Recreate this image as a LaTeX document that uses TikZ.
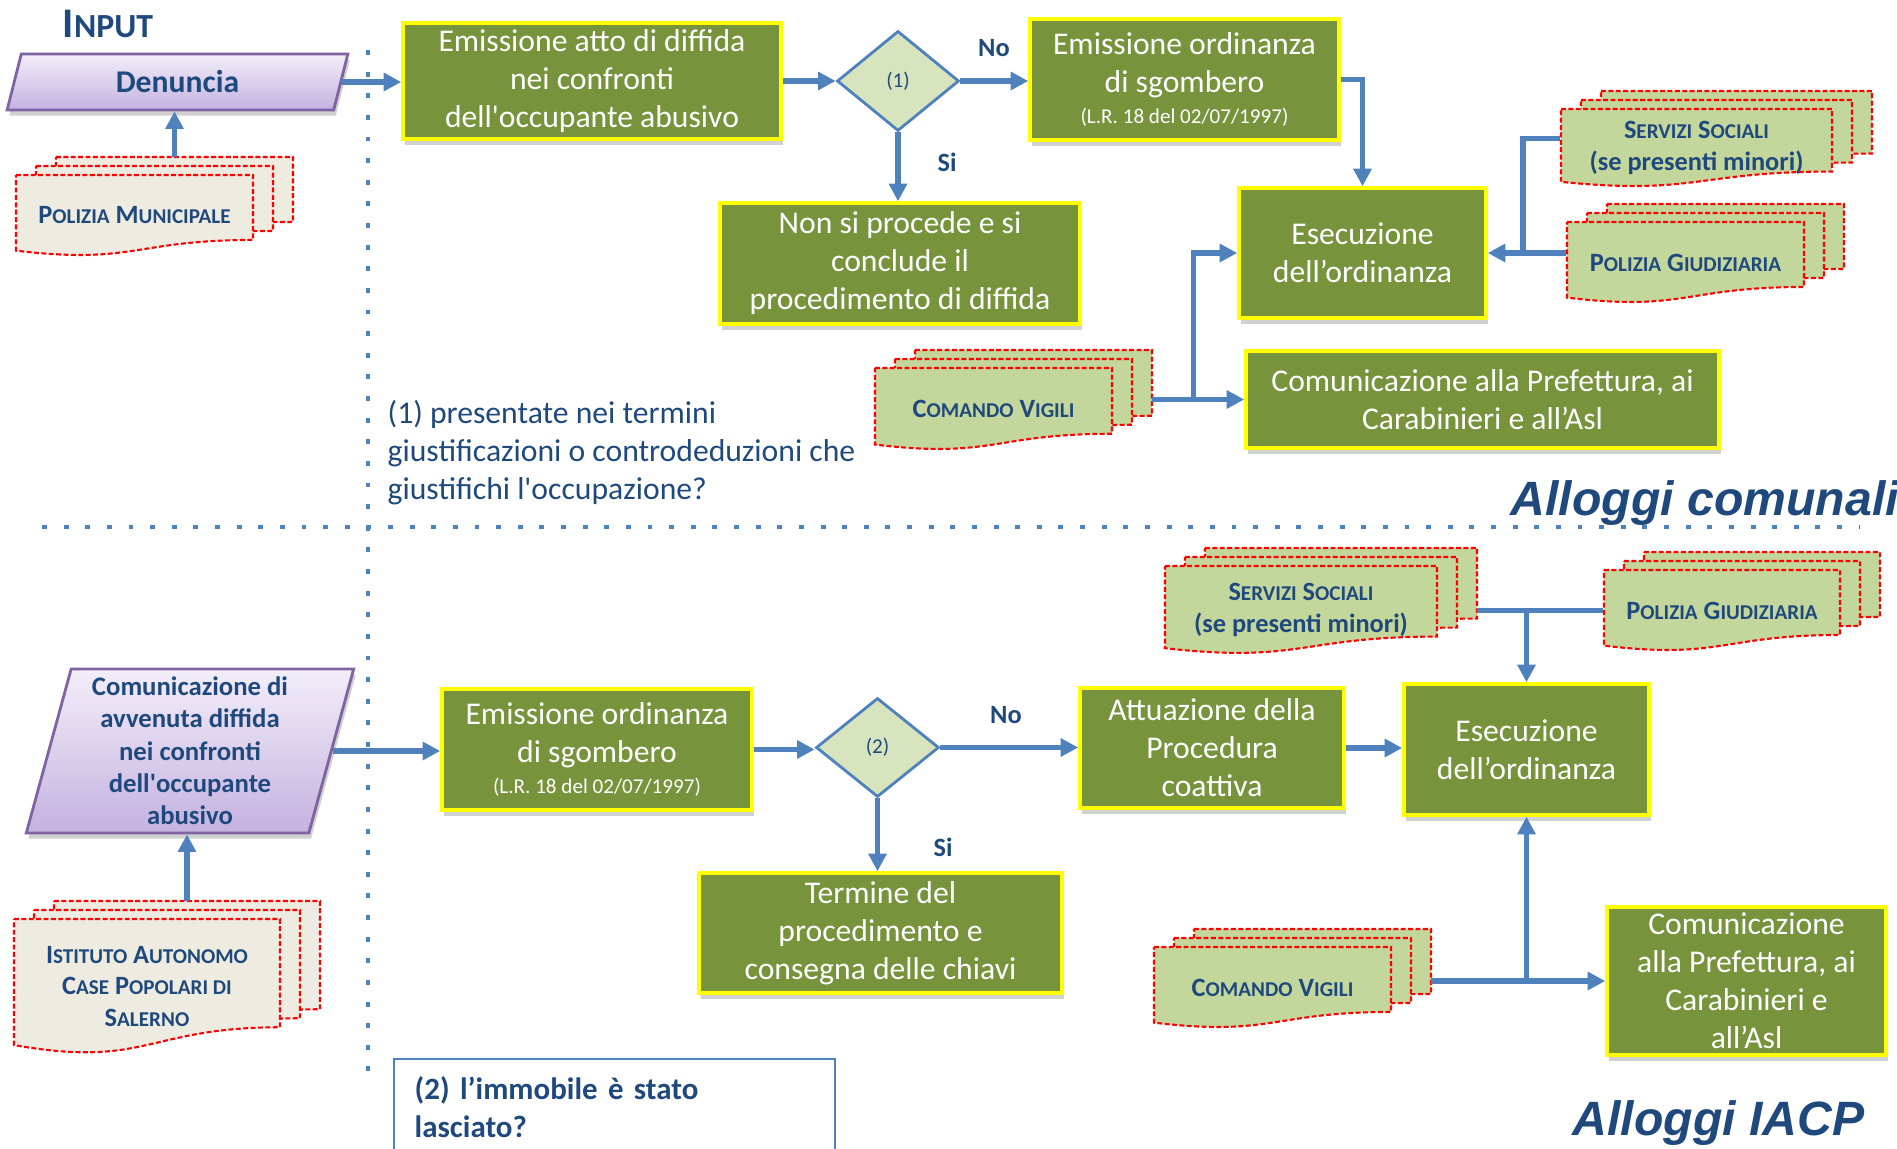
\documentclass[tikz,border=0pt]{standalone}
\usepackage{fontspec}
\setmainfont{Carlito}
\newfontfamily\arialfont{Liberation Sans}
\usetikzlibrary{shapes.geometric, arrows.meta, positioning, calc, shadows}

\definecolor{boxgreen}{HTML}{77933C}
\definecolor{boxedge}{HTML}{FFFF00}
\definecolor{lineblue}{HTML}{4F81BD}
\definecolor{txtblue}{HTML}{1F497D}
\definecolor{diafill}{HTML}{D7E4BD}
\definecolor{docbeige}{HTML}{EEECE1}
\definecolor{docgreen}{HTML}{C3D69B}
\definecolor{parEdge}{HTML}{8064A2}
\definecolor{parTop}{HTML}{F3EEF9}
\definecolor{parBot}{HTML}{C4B2E0}

\newcommand{\smc}[1]{\scalebox{0.8}{#1}}

\tikzset{
  block/.style = {draw=boxedge, line width=1pt, fill=boxgreen, text=white, align=center, inner sep=1pt,
    font=\fontsize{9}{10.8}\selectfont, drop shadow={shadow xshift=0.6pt, shadow yshift=-1.6pt, opacity=0.3, fill=black!60}},
  arrow/.style = {-{Triangle[length=5pt,width=5pt]}, draw=lineblue, line width=1.5pt},
  link/.style = {draw=lineblue, line width=1.5pt},
  boxsize/.style 2 args = {minimum width=#1*0.01cm, minimum height=#2*0.01cm},
  docline/.style = {draw=red, line width=0.6pt, dash pattern=on 1.4pt off 0.7pt},
  doctext/.style = {align=center, text=txtblue, inner sep=0pt, font=\bfseries\fontsize{7.5}{9}\selectfont}
}

% name, x, y (top left of front sheet), width, height, fill, text
\newcommand{\docstack}[7]{%
  \foreach \k in {2,1,0}
    \draw[docline, fill=#6, shift={({#2+\k*\dx},{#3-\k*\dy})}]
      (0,0) -- (#4,0) -- (#4,{0.802*#5})
      .. controls ({0.5*#4},{0.802*#5}) and ({0.5*#4},{1.1075*#5}) .. (0,{0.934*#5}) -- cycle;
  \node[doctext, boxsize={#4}{#5}] (#1) at ({#2+0.5*#4},{#3+0.5*#5}) {#7};
  \coordinate (#1-top) at ({#2+0.5*#4+2*\dx},{#3-2*\dy});
  \coordinate (#1-e) at ({#2+#4+2*\dx},{#3+0.5*#5});
}

\begin{document}
\begin{tikzpicture}[x=0.01cm, y=-0.01cm]
  \def\dx{20}
  \def\dy{9}
  \tikzset{
    title/.style={font=\bfseries\fontsize{12}{14}\selectfont, text=txtblue},
    zona/.style={font=\arialfont\bfseries\itshape\fontsize{13.7}{16}\selectfont, text=txtblue, inner sep=0pt},
    lbl/.style={font=\bfseries\fontsize{7.5}{9}\selectfont, text=txtblue},
    decision/.style={diamond, draw=lineblue, line width=0.8pt, fill=diafill, text=txtblue,
      font=\fontsize{6}{7}\selectfont, inner sep=0pt},
    inputbox/.style={trapezium, trapezium left angle=76, trapezium right angle=104, trapezium stretches=true,
      draw=parEdge, line width=0.8pt, top color=parTop, bottom color=parBot, text=txtblue, align=center,
      inner sep=0pt, drop shadow={shadow xshift=0.6pt, shadow yshift=-1.6pt, opacity=0.3, fill=black!60}},
    note/.style={font=\fontsize{9}{10.8}\selectfont, text=txtblue, align=left, inner sep=0pt}
  }

  \useasboundingbox (0,0) rectangle (1897,1149);
  \clip (0,0) rectangle (1897,1149);

  \draw[lineblue, line width=1.4pt, dash pattern=on 1.4pt off 4.75pt] (368,50) -- (368,1075);
  \draw[lineblue, line width=1.4pt, dash pattern=on 1.4pt off 4.75pt] (42,527) -- (1860,527);

  \node[title] (input) at (108,24) {I\smc{NPUT}};
  \node[inputbox, boxsize={341}{56}, font=\bfseries\fontsize{9}{10.8}\selectfont] (den) at (177.5,82) {Denuncia};
  \docstack{pm}{16}{175}{237}{81}{docbeige}{P\smc{OLIZIA} M\smc{UNICIPALE}}

  \node[block, boxsize={378}{116}] (emA) at (592,81) {Emissione atto di diffida\\nei confronti\\dell\textquotesingle occupante abusivo};
  \node[decision, boxsize={122}{100}] (d1) at (898,81) {(1)};
  \node[block, boxsize={309}{121}] (ordA) at (1184.5,79.5) {Emissione ordinanza\\di sgombero\\[-2pt]{\fontsize{6}{7}\selectfont (L.R. 18 del 02/07/1997)}};
  \node[block, boxsize={360}{121}] (nsp) at (900,263.5) {Non si procede e si\\conclude il\\procedimento di diffida};
  \node[block, boxsize={247}{130}] (esA) at (1362.5,253) {Esecuzione\\dell’ordinanza};
  \node[block, boxsize={473}{97}] (comA) at (1482.5,399.5) {Comunicazione alla Prefettura, ai\\Carabinieri e all’Asl};
  \docstack{ss1}{1561}{109}{271}{78}{docgreen}{S\smc{ERVIZI} S\smc{OCIALI}\\(se presenti minori)}
  \docstack{pg1}{1567}{222}{237}{81}{docgreen}{P\smc{OLIZIA} G\smc{IUDIZIARIA}}
  \docstack{cv1}{875}{368}{237}{82}{docgreen}{C\smc{OMANDO} V\smc{IGILI}}

  \node[lbl] (no1) at (994,48) {No};
  \node[lbl] (si1) at (947,162) {Si};

  \node[note, anchor=west] (nota1) at (387,453) {(1) presentate nei termini\\giustificazioni o controdeduzioni che\\giustifichi l\textquotesingle occupazione?};
  \node[zona, anchor=base west] (zonaA) at (1510,515) {Alloggi comunali};

  \draw[arrow] (den.east) -- (den.east -| emA.west);
  \draw[arrow] (pm-top) -- (pm-top |- den.south);
  \draw[arrow] (emA.east) -- (emA.east -| d1.west);
  \draw[arrow] (d1.east) -- (d1.east -| ordA.west);
  \draw[arrow] (d1.south) -- (d1.south |- nsp.north);
  \draw[arrow] (ordA.east) -| (esA.north);
  \coordinate (jA) at ($(esA.east)!0.45!(esA.east -| pg1.west)$);
  \draw[link] ([yshift=2.8pt]ss1.west) -| (jA);
  \draw[arrow] (esA.east -| pg1.west) -- (esA.east);
  \coordinate (jB) at ($(cv1-e |- comA.west)!0.45!(comA.west)$);
  \draw[arrow] (cv1-e |- comA.west) -- (comA.west);
  \draw[arrow] (jB) |- (esA.west);

  \node[inputbox, boxsize={328}{164}, font=\bfseries\fontsize{7.6}{9.2}\selectfont] (com2) at (190,751)
    {Comunicazione di\\avvenuta diffida\\nei confronti\\dell\textquotesingle occupante\\abusivo};
  \docstack{ist}{14}{919}{266}{135}{docbeige}{I\smc{STITUTO} A\smc{UTONOMO}\\C\smc{ASE} P\smc{OPOLARI DI}\\S\smc{ALERNO}}

  \node[block, boxsize={310}{121}] (emO) at (597,749.5) {Emissione ordinanza\\di sgombero\\[-2pt]{\fontsize{6}{7}\selectfont (L.R. 18 del 02/07/1997)}};
  \node[decision, boxsize={123}{99}] (d2) at (877.5,747.5) {(2)};
  \node[block, boxsize={264}{120}] (att) at (1212,748) {Attuazione della\\Procedura\\coattiva};
  \node[block, boxsize={363}{120}] (ter) at (880.5,933) {Termine del\\procedimento e\\consegna delle chiavi};
  \node[block, boxsize={245}{131}] (esB) at (1526.5,749.5) {Esecuzione\\dell’ordinanza};
  \node[block, boxsize={279}{148}] (comB) at (1746.5,981) {Comunicazione\\alla Prefettura, ai\\Carabinieri e\\all’Asl};
  \docstack{ss2}{1165}{566}{272}{88}{docgreen}{S\smc{ERVIZI} S\smc{OCIALI}\\(se presenti minori)}
  \docstack{pg2}{1604}{570}{236}{81}{docgreen}{P\smc{OLIZIA} G\smc{IUDIZIARIA}}
  \docstack{cv2}{1154}{947}{237}{81}{docgreen}{C\smc{OMANDO} V\smc{IGILI}}

  \node[lbl] (no2) at (1006,715) {No};
  \node[lbl] (si2) at (943,847) {Si};

  \node[draw=lineblue, line width=0.7pt, anchor=north west, boxsize={441}{96}, text width=400*0.01cm,
    align=left, inner xsep=20*0.01cm, font=\bfseries\fontsize{8.8}{11}\selectfont, text=txtblue] (nota2) at (393,1058)
    {(2) l’immobile è stato\\lasciato?};
  \node[zona, anchor=base west] (zonaB) at (1572,1135) {Alloggi IACP};

  \draw[arrow] (com2.east) -- (com2.east -| emO.west);
  \draw[arrow] (ist-top) -- (ist-top |- com2.south);
  \draw[arrow] (emO.east) -- (emO.east -| d2.west);
  \draw[arrow] (d2.east) -- (d2.east -| att.west);
  \draw[arrow] (d2.south) -- (d2.south |- ter.north);
  \draw[arrow] (att.east) -- (att.east -| esB.west);
  \draw[link] (ss2-e |- pg2.west) -- (pg2.west);
  \draw[arrow] (esB.north |- pg2.west) -- (esB.north);
  \draw[arrow] (cv2-e |- comB.west) -- (comB.west);
  \draw[arrow] (esB.south |- comB.west) -- (esB.south);
\end{tikzpicture}
\end{document}
